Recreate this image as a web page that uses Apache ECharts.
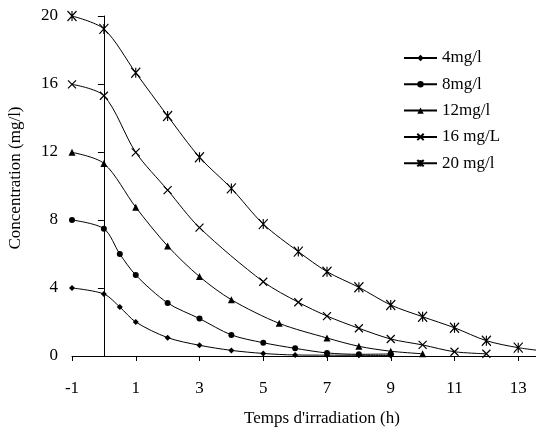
<!DOCTYPE html>
<html>
<head>
<meta charset="utf-8">
<script src="https://cdn.jsdelivr.net/npm/echarts@6/dist/echarts.min.js"></script>
<style>
  html, body { margin: 0; padding: 0; background: #fff; }
  #chart { width: 536px; height: 428px; }
</style>
</head>
<body>
<div id="chart"></div>
<script>
// Series names
var seriesNames = ['4mg/l', '8mg/l', '12mg/l', '16 mg/L', '20 mg/l'];

// Time (h) values per series
var x4  = [-1, 0, 0.5, 1, 2, 3, 4, 5, 6, 7, 8, 9];
var x8  = [-1, 0, 0.5, 1, 2, 3, 4, 5, 6, 7, 8, 9];
var x12 = [-1, 0, 1, 2, 3, 4, 5.5, 7, 8, 9, 10];
var x16 = [-1, 0, 1, 2, 3, 5, 6.1, 7, 8, 9, 10, 11, 12];
var x20 = [-1, 0, 1, 2, 3, 4, 5, 6.1, 7, 8, 9, 10, 11, 12, 13, 14];

// Concentration (mg/l) values per series
var c4  = [4.0, 3.65, 2.88, 2.0, 1.08, 0.63, 0.33, 0.15, 0.06, 0.05, 0.04, 0.03];
var c8  = [8.0, 7.49, 6.0, 4.76, 3.12, 2.2, 1.24, 0.78, 0.45, 0.18, 0.1, 0.12];
var c12 = [11.98, 11.33, 8.75, 6.47, 4.67, 3.31, 1.92, 1.06, 0.57, 0.28, 0.13];
var c16 = [15.98, 15.31, 11.98, 9.76, 7.55, 4.37, 3.16, 2.35, 1.63, 1.0, 0.65, 0.25, 0.13];
var c20 = [20.0, 19.24, 16.66, 14.12, 11.69, 9.86, 7.76, 6.14, 4.96, 4.04, 3.0, 2.31, 1.66, 0.9, 0.49, 0.25];

// Axis ticks
var xTickStart = -1, xTickStep = 2, xAxisMax = 15;
var yTickStep = 4, yAxisMax = 20;

var xs = [x4, x8, x12, x16, x20];
var cs = [c4, c8, c12, c16, c20];

var FONT = 'Liberation Serif';
var symbols = [
  'diamond',
  'circle',
  'triangle',
  'path://M0,0L10,10M10,0L0,10',
  'path://M0,0L10,10M10,0L0,10M5,0L5,10'
];
var symbolSizes = [6, 6, 7, [8, 8], [9, 10]];

function pairs(xa, ya) {
  var out = [];
  for (var i = 0; i < xa.length; i++) out.push([xa[i], ya[i]]);
  return out;
}

var series = seriesNames.map(function (name, i) {
  var s = {
    name: name,
    type: 'line',
    data: pairs(xs[i], cs[i]),
    smooth: 0.3,
    symbol: symbols[i],
    symbolSize: symbolSizes[i],
    showAllSymbol: true,
    lineStyle: { color: '#000', width: 1 },
    itemStyle: { color: '#000', borderColor: '#000', borderWidth: i >= 3 ? 1.2 : 0 },
    emphasis: { disabled: true },
    animation: false
  };
  if (i === 0) {
    s.markLine = {
      silent: true,
      symbol: ['none', 'none'],
      label: { show: false },
      lineStyle: { color: '#000', width: 1, type: 'solid' },
      data: [{ xAxis: 0 }],
      animation: false
    };
  }
  return s;
});

var chart = echarts.init(document.getElementById('chart'), null, { renderer: 'canvas' });
chart.setOption({
  backgroundColor: '#fff',
  animation: false,
  textStyle: { fontFamily: FONT, color: '#000' },
  grid: { left: 72, right: -46, top: 16, bottom: 72, containLabel: false, outerBoundsMode: 'none' },
  legend: {
    orient: 'vertical',
    left: 403,
    top: 49.5,
    padding: 0,
    itemWidth: 33,
    itemHeight: 8,
    itemGap: 9.3,
    textStyle: { fontFamily: FONT, fontSize: 17, color: '#000' },
    data: seriesNames
  },
  xAxis: {
    type: 'value',
    min: xTickStart,
    max: xAxisMax,
    interval: xTickStep,
    name: "Temps d'irradiation (h)",
    nameLocation: 'middle',
    nameGap: 54,
    nameTextStyle: { fontFamily: FONT, fontSize: 17, color: '#000', padding: [0, 10, 0, 0] },
    axisLine: { lineStyle: { color: '#000', width: 1 } },
    axisTick: { show: true, length: 5, lineStyle: { color: '#000' } },
    axisLabel: { fontFamily: FONT, fontSize: 17, color: '#000', margin: 24 },
    splitLine: { show: false }
  },
  yAxis: {
    type: 'value',
    min: 0,
    max: yAxisMax,
    interval: yTickStep,
    name: 'Concentration (mg/l)',
    nameLocation: 'middle',
    nameGap: 48,
    nameTextStyle: { fontFamily: FONT, fontSize: 17, color: '#000', padding: [0, 0, 0, 16] },
    axisLine: { show: true, lineStyle: { color: '#000', width: 1 } },
    axisTick: { show: true, length: 6, lineStyle: { color: '#000' } },
    axisLabel: { fontFamily: FONT, fontSize: 17, color: '#000', margin: 14 },
    splitLine: { show: false }
  },
  series: series
});
</script>
</body>
</html>
